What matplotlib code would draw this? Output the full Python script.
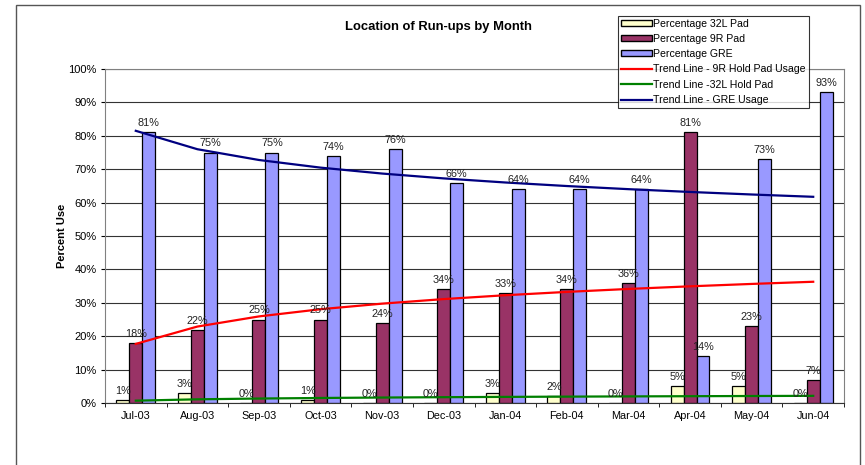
import matplotlib.pyplot as plt
import matplotlib.patches as mpatches
from matplotlib.lines import Line2D
from matplotlib.ticker import FuncFormatter
import numpy as np

plt.rcParams['font.family'] = ['Liberation Sans', 'DejaVu Sans']

months = ['Jul-03', 'Aug-03', 'Sep-03', 'Oct-03', 'Nov-03', 'Dec-03',
          'Jan-04', 'Feb-04', 'Mar-04', 'Apr-04', 'May-04', 'Jun-04']
pct_32l = [1, 3, 0, 1, 0, 0, 3, 2, 0, 5, 5, 0]
pct_9r = [18, 22, 25, 25, 24, 34, 33, 34, 36, 81, 23, 7]
pct_gre = [81, 75, 75, 74, 76, 66, 64, 64, 64, 14, 73, 93]

colors = ['#FFFFCC', '#993366', '#9999FF']
trend_colors = ['#FF0000', '#008000', '#000080']

fig = plt.figure(figsize=(8.65, 4.65), dpi=100)
ax = fig.add_axes([105 / 865, 1 - 403 / 465, (844 - 105) / 865, (403 - 69) / 465])

x = np.arange(1, len(months) + 1)
w = 0.21
series = [pct_32l, pct_9r, pct_gre]
for i, (vals, c) in enumerate(zip(series, colors)):
    xs = x + (i - 1) * w
    ax.bar(xs, vals, width=w, color=c, edgecolor='black', linewidth=0.9, zorder=2)
    for xx, v in zip(xs, vals):
        ax.text(xx, v + 1.2, f'{v:.0f}%', ha='center', va='bottom',
                fontsize=7.8, color='#222222', zorder=4)

# logarithmic trend lines, like Excel
def log_trend(vals):
    b, a = np.polyfit(np.log(x), vals, 1)
    return a + b * np.log(x)

ax.plot(x, log_trend(pct_9r), color=trend_colors[0], lw=1.6, zorder=3)
ax.plot(x, log_trend(pct_32l), color=trend_colors[1], lw=1.6, zorder=3)
ax.plot(x, log_trend(pct_gre), color=trend_colors[2], lw=1.6, zorder=3)

ax.set_xlim(0.5, len(months) + 0.5)
ax.set_ylim(0, 100)
ax.set_yticks(np.arange(0, 101, 10))
ax.yaxis.set_major_formatter(FuncFormatter(lambda v, p: f'{v:.0f}%'))
ax.set_xticks(x)
ax.set_xticklabels(months)
ax.set_xticks(np.arange(0.5, len(months) + 1, 1), minor=True)
ax.tick_params(axis='x', which='major', length=0, labelsize=7.8, pad=6)
ax.tick_params(axis='x', which='minor', length=3, direction='out')
ax.tick_params(axis='y', labelsize=8, length=3, direction='out', pad=3)
ax.grid(axis='y', color='#333333', linewidth=0.8, zorder=0)
ax.set_axisbelow(True)
for s in ['left', 'right', 'top']:
    ax.spines[s].set_color('#808080')
ax.spines['bottom'].set_color('#333333')
ax.set_ylabel('Percent Use', fontsize=8, fontweight='bold', labelpad=1)

fig.text(438 / 865, 1 - 27 / 465, 'Location of Run-ups by Month', ha='center',
         va='center', fontsize=9.4, fontweight='bold')

# outer chart border
fig.patches.append(mpatches.Rectangle((16 / 865, -0.05), (860 - 16) / 865, 1.05 - 5 / 465,
                                      transform=fig.transFigure, fill=False,
                                      edgecolor='#555555', linewidth=1.0))

handles = [mpatches.Patch(facecolor=colors[0], edgecolor='black', label='Percentage 32L Pad'),
           mpatches.Patch(facecolor=colors[1], edgecolor='black', label='Percentage 9R Pad'),
           mpatches.Patch(facecolor=colors[2], edgecolor='black', label='Percentage GRE'),
           Line2D([], [], color=trend_colors[0], lw=1.6, label='Trend Line - 9R Hold Pad Usage'),
           Line2D([], [], color=trend_colors[1], lw=1.6, label='Trend Line -32L Hold Pad'),
           Line2D([], [], color=trend_colors[2], lw=1.6, label='Trend Line - GRE Usage')]
leg = fig.legend(handles=handles, loc='upper left', bbox_to_anchor=(618 / 865, 1 - 16 / 465),
                 fontsize=7.6, frameon=True, fancybox=False, edgecolor='black',
                 borderpad=0.25, labelspacing=0.5, handlelength=3.0, handleheight=0.5,
                 handletextpad=0.1, borderaxespad=0)
leg.get_frame().set_linewidth(0.8)
leg.set_zorder(10)

fig.savefig('out.png', dpi=100)
